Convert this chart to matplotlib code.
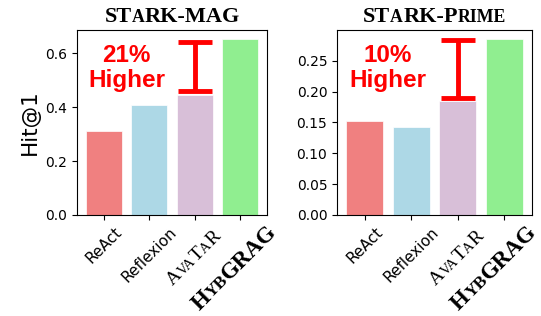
import math

import matplotlib.pyplot as plt

methods = ["ReAct", "Reflexion", "AvaTaR", "HybGRAG"]
colors = ["lightcoral", "lightblue", "thistle", "lightgreen"]

mag_hit1 = [0.3107, 0.4071, 0.4436, 0.6540]
prime_hit1 = [0.1528, 0.1428, 0.1844, 0.2856]

gain_text = ["21%\nHigher", "10%\nHigher"]
gain_low = [0.461, 0.190]
gain_high = [0.643, 0.283]

# small caps pieces: (text, big?)
title_pieces = [
    [("ST", 1), ("A", 0), ("RK-MAG", 1)],
    [("ST", 1), ("A", 0), ("RK-P", 1), ("RIME", 0)],
]
avatar_pieces = [("A", 1), ("VA", 0), ("T", 1), ("A", 0), ("R", 1)]
hyb_pieces = [("H", 1), ("YB", 0), ("GRAG", 1)]

fig = plt.figure(figsize=(5.41, 3.16), dpi=100)
ax1 = fig.add_axes([77 / 541, 1 - 215 / 316, 190 / 541, 185 / 316])
ax2 = fig.add_axes([337 / 541, 1 - 215 / 316, 195 / 541, 185 / 316])
renderer = fig.canvas.get_renderer()


def measure(s, size, weight):
    t = fig.text(0, 0, s, fontsize=size, family="Liberation Serif", weight=weight)
    w = t.get_window_extent(renderer).width
    t.remove()
    return w


def chain(ax, xy, xycoords, pieces, sizes, weight, angle, dx, dy):
    ux, uy = math.cos(math.radians(angle)), math.sin(math.radians(angle))
    c = 0
    for s, big in pieces:
        sz = sizes[0] if big else sizes[1]
        ax.annotate(s, xy=xy, xycoords=xycoords, textcoords="offset pixels",
                    xytext=(dx + c * ux, dy + c * uy), fontsize=sz,
                    family="Liberation Serif", weight=weight, rotation=angle,
                    rotation_mode="anchor", ha="left", va="baseline",
                    annotation_clip=False)
        c += measure(s, sz, weight)


def caps_tick(ax, x, pieces, sizes, weight, gap, shift):
    W = sum(measure(s, sizes[0] if b else sizes[1], weight) for s, b in pieces)
    A = sizes[0] * 0.662 * 100 / 72
    dx = shift - (W - A) * 0.3536
    dy = -gap - (W + A) * 0.7071
    chain(ax, (x, 0), ax.get_xaxis_transform(), pieces, sizes, weight, 45, dx, dy)


for i, (ax, vals) in enumerate(zip([ax1, ax2], [mag_hit1, prime_hit1])):
    ax.bar(range(len(methods)), vals, color=colors, width=0.8,
           edgecolor="white", linewidth=0.5)
    ax.set_xticks(range(len(methods)))
    ax.set_xticklabels(["ReAct", "Reflexion", "", ""], rotation=45, fontsize=11)
    ax.tick_params(axis="y", labelsize=10)
    mid = (gain_low[i] + gain_high[i]) / 2
    half = (gain_high[i] - gain_low[i]) / 2
    ax.errorbar(2, mid, yerr=half, color="red", lw=3.5, capsize=12, capthick=3.5)
    ax.text(0.5, 0.795, gain_text[i], transform=ax.get_xaxis_transform(),
            ha="center", va="center", color="red", fontsize=17.5,
            family="Liberation Sans", weight="bold", linespacing=1.15)
    # title in small caps
    W = sum(measure(s, 16 if b else 12.8, "bold") for s, b in title_pieces[i])
    chain(ax, (0.5, 1), ax.transAxes, title_pieces[i], (16, 12.8), "bold", 0, -W / 2, 8)
    caps_tick(ax, 2, avatar_pieces, (14, 10.5), "normal", 13, -2)
    caps_tick(ax, 3, hyb_pieces, (16.5, 12.5), "bold", 7, -7 - 5 * i)

ax1.set_ylabel("Hit@1", fontsize=15.5)
ax1.set_yticks([0.0, 0.2, 0.4, 0.6])
ax2.set_yticks([0.0, 0.05, 0.10, 0.15, 0.20, 0.25])

fig.savefig("out.png", dpi=100)
